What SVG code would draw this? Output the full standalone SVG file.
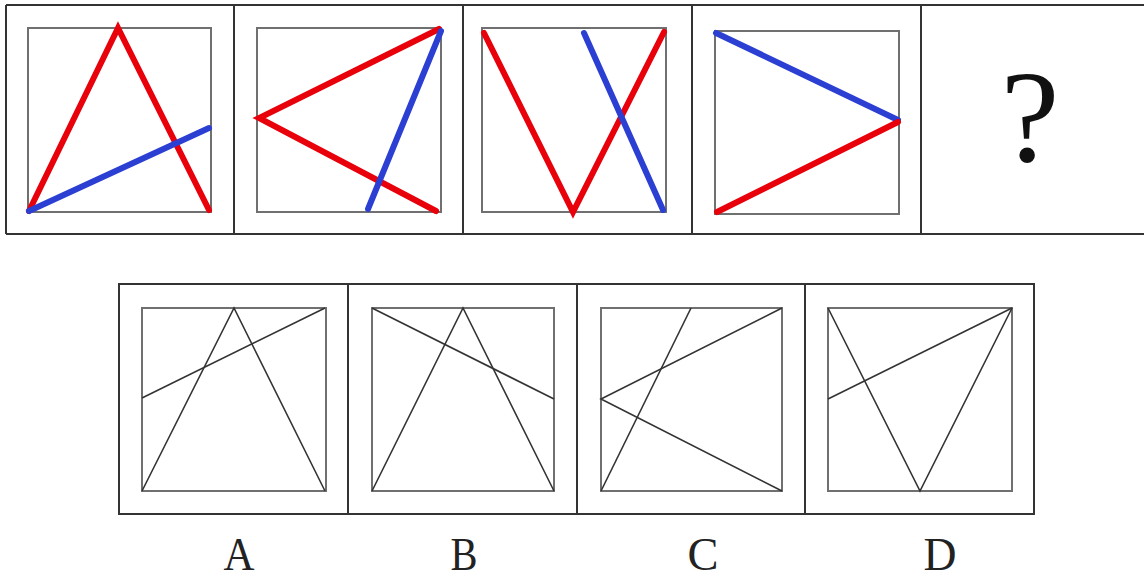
<svg xmlns="http://www.w3.org/2000/svg" width="1144" height="581" viewBox="0 0 1144 581">
<style>
.frame{fill:none;stroke:#333;stroke-width:2}
.sq{fill:none;stroke:#707070;stroke-width:2}
.red{stroke:#e8000b;stroke-width:6;stroke-linecap:round;fill:none}
.blue{stroke:#2b3fd3;stroke-width:6;stroke-linecap:round;fill:none}
.ln{stroke:#333;stroke-width:1.6;fill:none}
.lbl{font-family:"Liberation Serif",serif;font-size:46px;fill:#222;text-anchor:middle}
</style>
<rect width="1144" height="581" fill="#fff"/>
<g id="top-frame">
<line class="frame" x1="6" y1="5" x2="1144" y2="5" stroke-width="3"/>
<line class="frame" x1="6" y1="234" x2="1144" y2="234"/>
<line class="frame" x1="6" y1="5" x2="6" y2="234"/>
<line class="frame" x1="234" y1="5" x2="234" y2="234"/>
<line class="frame" x1="463" y1="5" x2="463" y2="234"/>
<line class="frame" x1="692" y1="5" x2="692" y2="234"/>
<line class="frame" x1="921" y1="5" x2="921" y2="234"/>
</g>
<g id="p1">
<rect class="sq" x="28" y="28" width="183" height="184"/>
<polyline class="red" points="29,211 118,28 209,210"/>
<line class="blue" x1="29" y1="211" x2="209" y2="128"/>
</g>
<g id="p2">
<rect class="sq" x="257" y="28" width="184" height="184"/>
<polyline class="red" points="439,29 259,118 436,211"/>
<line class="blue" x1="441" y1="31" x2="368" y2="209"/>
</g>
<g id="p3">
<rect class="sq" x="482" y="28" width="184" height="184"/>
<polyline class="red" points="484,33 573,212 664,32"/>
<line class="blue" x1="584" y1="33" x2="663" y2="210"/>
</g>
<g id="p4">
<rect class="sq" x="715" y="31" width="184" height="183"/>
<line class="blue" x1="716" y1="33" x2="898" y2="120"/>
<line class="red" x1="717" y1="212" x2="898" y2="122"/>
</g>
<g id="p5">
<text x="1030" y="161" font-family="Liberation Serif,serif" font-size="132" text-anchor="middle" fill="#111">?</text>
</g>
<g id="bottom-frame">
<rect class="frame" x="119" y="284" width="915" height="230"/>
<line class="frame" x1="348" y1="284" x2="348" y2="514"/>
<line class="frame" x1="577" y1="284" x2="577" y2="514"/>
<line class="frame" x1="805" y1="284" x2="805" y2="514"/>
</g>
<g id="optA">
<rect class="sq" x="142" y="308" width="184" height="183"/>
<polyline class="ln" points="142,491 234,308 325,491"/>
<line class="ln" x1="142" y1="398" x2="325" y2="308"/>
</g>
<g id="optB">
<rect class="sq" x="372" y="308" width="182" height="183"/>
<polyline class="ln" points="372,491 463,308 554,491"/>
<line class="ln" x1="372" y1="308" x2="554" y2="399"/>
</g>
<g id="optC">
<rect class="sq" x="601" y="308" width="181" height="183"/>
<line class="ln" x1="601" y1="491" x2="691" y2="308"/>
<polyline class="ln" points="782,308 601,399 782,491"/>
</g>
<g id="optD">
<rect class="sq" x="828" y="308" width="184" height="183"/>
<polyline class="ln" points="828,308 920,491 1012,308"/>
<line class="ln" x1="828" y1="399" x2="1012" y2="308"/>
</g>
<g id="labels">
<text class="lbl" x="239" y="570" textLength="31" lengthAdjust="spacingAndGlyphs">A</text>
<text class="lbl" x="464" y="570" textLength="27" lengthAdjust="spacingAndGlyphs">B</text>
<text class="lbl" x="703" y="570" textLength="31" lengthAdjust="spacingAndGlyphs">C</text>
<text class="lbl" x="940" y="570" textLength="33" lengthAdjust="spacingAndGlyphs">D</text>
</g>
</svg>
